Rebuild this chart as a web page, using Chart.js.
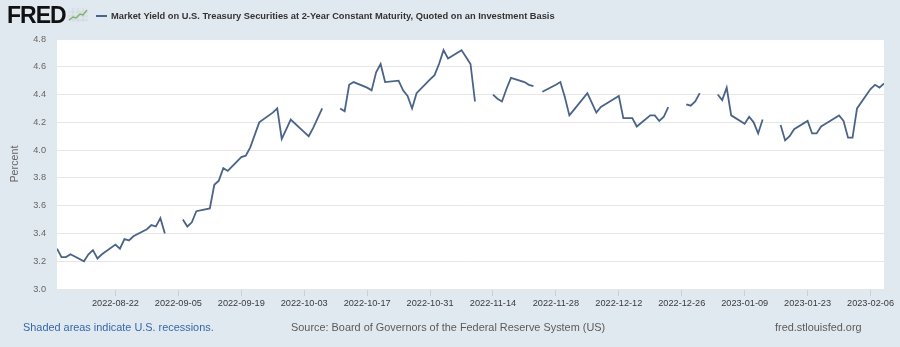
<!DOCTYPE html>
<html>
<head>
<meta charset="utf-8">
<script src="https://cdn.jsdelivr.net/npm/chart.js@4.4.0/dist/chart.umd.min.js"></script>
<style>
html,body{margin:0;padding:0;background:#e1e9f0;}
#wrap{position:relative;width:900px;height:347px;overflow:hidden;background:#e1e9f0;font-family:'Liberation Sans',Arial,sans-serif;}
#c{position:absolute;left:0;top:0;}
.abs{position:absolute;white-space:nowrap;}
#logo{left:7px;top:2px;font-weight:bold;font-size:23px;letter-spacing:-1px;color:#111;line-height:26px;}
#icon{left:68px;top:8px;}
#dash{left:96px;top:15px;width:11px;height:2px;background:#4a6487;}
#title{left:111px;top:10px;font-weight:bold;font-size:9.3px;color:#333;line-height:12px;}
.foot{top:320px;font-size:10.9px;line-height:14px;color:#5a5a5a;}
#shaded{left:23px;color:#3467a8;}
#source{left:291px;}
#site{left:775px;}
</style>
</head>
<body>
<div id="wrap">
  <canvas id="c" width="900" height="347"></canvas>
  <div id="logo" class="abs">FRED</div>
  <svg id="icon" class="abs" width="20" height="14" viewBox="0 0 20 14">
    <rect x="0" y="0" width="20" height="14" fill="#dfe6ec"/>
    <path d="M0 4H20M0 8H20M0 12H20M5 0V14M10 0V14M15 0V14" stroke="#c9d3dc" stroke-width="0.6"/>
    <polyline points="1,12 5,9 8,10 12,6 15,7 19,2" fill="none" stroke="#7fb36a" stroke-width="1.4"/>
  </svg>
  <div id="dash" class="abs"></div>
  <div id="title" class="abs">Market Yield on U.S. Treasury Securities at 2-Year Constant Maturity, Quoted on an Investment Basis</div>
  <div id="shaded" class="abs foot">Shaded areas indicate U.S. recessions.</div>
  <div id="source" class="abs foot">Source: Board of Governors of the Federal Reserve System (US)</div>
  <div id="site" class="abs foot">fred.stlouisfed.org</div>
</div>
<script>
// ---- data (daily observations; null = market holiday, no value) ----
const dates = [
  '2022-08-09','2022-08-10','2022-08-11','2022-08-12','2022-08-15','2022-08-16','2022-08-17','2022-08-18','2022-08-19',
  '2022-08-22','2022-08-23','2022-08-24','2022-08-25','2022-08-26','2022-08-29','2022-08-30','2022-08-31','2022-09-01','2022-09-02',
  '2022-09-05','2022-09-06','2022-09-07','2022-09-08','2022-09-09','2022-09-12','2022-09-13','2022-09-14','2022-09-15','2022-09-16',
  '2022-09-19','2022-09-20','2022-09-21','2022-09-22','2022-09-23','2022-09-26','2022-09-27','2022-09-28','2022-09-29','2022-09-30',
  '2022-10-03','2022-10-04','2022-10-05','2022-10-06','2022-10-07','2022-10-10','2022-10-11','2022-10-12','2022-10-13','2022-10-14',
  '2022-10-17','2022-10-18','2022-10-19','2022-10-20','2022-10-21','2022-10-24','2022-10-25','2022-10-26','2022-10-27','2022-10-28',
  '2022-10-31','2022-11-01','2022-11-02','2022-11-03','2022-11-04','2022-11-07','2022-11-08','2022-11-09','2022-11-10','2022-11-11',
  '2022-11-14','2022-11-15','2022-11-16','2022-11-17','2022-11-18','2022-11-21','2022-11-22','2022-11-23','2022-11-24','2022-11-25',
  '2022-11-28','2022-11-29','2022-11-30','2022-12-01','2022-12-02','2022-12-05','2022-12-06','2022-12-07','2022-12-08','2022-12-09',
  '2022-12-12','2022-12-13','2022-12-14','2022-12-15','2022-12-16','2022-12-19','2022-12-20','2022-12-21','2022-12-22','2022-12-23',
  '2022-12-26','2022-12-27','2022-12-28','2022-12-29','2022-12-30','2023-01-02','2023-01-03','2023-01-04','2023-01-05','2023-01-06',
  '2023-01-09','2023-01-10','2023-01-11','2023-01-12','2023-01-13','2023-01-16','2023-01-17','2023-01-18','2023-01-19','2023-01-20',
  '2023-01-23','2023-01-24','2023-01-25','2023-01-26','2023-01-27','2023-01-30','2023-01-31','2023-02-01','2023-02-02','2023-02-03',
  '2023-02-06','2023-02-07','2023-02-08','2023-02-09'
];
const yields = [
  3.29,3.23,3.23,3.25,3.20,3.25,3.28,3.22,3.25,
  3.32,3.29,3.36,3.35,3.38,3.43,3.46,3.45,3.51,3.40,
  null,3.50,3.45,3.48,3.56,3.58,3.75,3.78,3.87,3.85,
  3.95,3.96,4.02,4.11,4.20,4.27,4.30,4.08,4.15,4.22,
  4.13,4.10,4.16,4.23,4.30,null,4.30,4.28,4.47,4.49,
  4.45,4.43,4.56,4.62,4.49,4.50,4.43,4.39,4.30,4.41,
  4.51,4.54,4.62,4.72,4.66,4.72,4.67,4.62,4.35,null,
  4.40,4.37,4.35,4.44,4.52,4.49,4.47,4.46,null,4.42,
  4.47,4.49,4.38,4.25,4.29,4.41,4.34,4.27,4.31,4.33,
  4.39,4.23,4.23,4.23,4.17,4.25,4.25,4.21,4.24,4.31,
  null,4.33,4.32,4.35,4.41,null,4.40,4.36,4.45,4.25,
  4.19,4.24,4.20,4.12,4.22,null,4.18,4.07,4.10,4.15,
  4.21,4.12,4.12,4.17,4.19,4.25,4.21,4.09,4.09,4.30,
  4.44,4.47,4.45,4.48
];
const xTickLabels = ['2022-08-22','2022-09-05','2022-09-19','2022-10-03','2022-10-17','2022-10-31','2022-11-14',
  '2022-11-28','2022-12-12','2022-12-26','2023-01-09','2023-01-23','2023-02-06'];
const yTickValues = [3.0,3.2,3.4,3.6,3.8,4.0,4.2,4.4,4.6,4.8];
const xStart = '2022-08-09';
const xEnd = '2023-02-09';

// ---- helpers ----
function dayNum(s){ const p=s.split('-').map(Number); return Date.UTC(p[0],p[1]-1,p[2])/86400000; }
const points = dates.map((d,i)=>({x:dayNum(d), y:yields[i]}));
const tickDays = xTickLabels.map(dayNum);
const labelByDay = {}; xTickLabels.forEach((l,i)=>{ labelByDay[tickDays[i]] = l; });

const plotBg = {
  id:'plotBg',
  beforeDraw(chart){
    const a=chart.chartArea, ctx=chart.ctx;
    ctx.save(); ctx.fillStyle='#ffffff'; ctx.fillRect(a.left,a.top,a.right-a.left,a.bottom-a.top); ctx.restore();
  }
};

new Chart(document.getElementById('c'), {
  type:'line',
  data:{ datasets:[{
    data:points, borderColor:'#4a6487', borderWidth:1.8, pointRadius:0, spanGaps:false, tension:0, fill:false
  }]},
  options:{
    responsive:false, animation:false, devicePixelRatio:1,
    layout:{ padding:{ top:39, right:16, bottom:36, left:0 } },
    plugins:{ legend:{display:false}, tooltip:{enabled:false} },
    scales:{
      x:{
        type:'linear', min:dayNum(xStart), max:dayNum(xEnd),
        afterBuildTicks(s){ s.ticks = tickDays.map(v=>({value:v})); },
        afterFit(s){ s.height = 22; },
        ticks:{ autoSkip:false, maxRotation:0, padding:2, color:'#3a3a3a',
          font:{ family:'Liberation Sans', size:9.2 },
          callback:(v)=> labelByDay[v] || '' },
        grid:{ drawOnChartArea:false, drawTicks:true, tickLength:7, color:'#c8d0d9' },
        border:{ display:false }
      },
      y:{
        min:3.0, max:4.8,
        afterBuildTicks(s){ s.ticks = yTickValues.map(v=>({value:v})); },
        afterFit(s){ s.width = 57; },
        ticks:{ padding:11, color:'#666666', font:{ family:'Liberation Sans', size:9.2 },
          callback:(v)=> Number(v).toFixed(1) },
        grid:{ color:'#e6e6e6', drawTicks:false, lineWidth:1 },
        border:{ display:false },
        title:{ display:true, text:'Percent', color:'#666666', font:{ family:'Liberation Sans', size:10.8 },
          padding:{ top:9, bottom:0 } }
      }
    }
  },
  plugins:[plotBg]
});
</script>
</body>
</html>
